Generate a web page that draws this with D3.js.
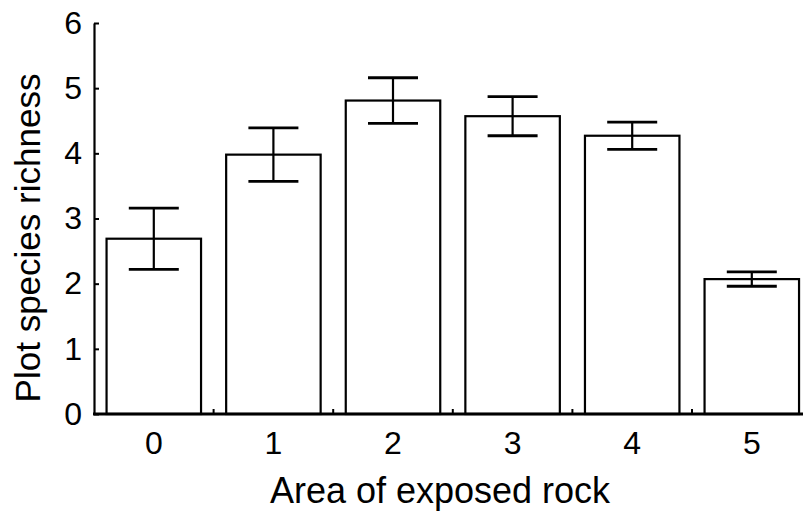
<!DOCTYPE html>
<html>
<head>
<meta charset="utf-8">
<script src="https://cdn.jsdelivr.net/npm/d3@7"></script>
<style>
  body { margin: 0; background: #fff; }
  svg { display: block; font-family: "Liberation Sans", Arial, sans-serif; }
</style>
</head>
<body>
<svg id="chart"></svg>
<script>
const categories = ["0", "1", "2", "3", "4", "5"];
const means = [2.69, 3.98, 4.81, 4.57, 4.27, 2.07];
const errors = [0.47, 0.41, 0.35, 0.30, 0.21, 0.11];
const yTicks = [0, 1, 2, 3, 4, 5, 6];

const width = 803, height = 512;
const marginLeft = 94, baseY = 414, topY = 23;

const svg = d3.select("#chart")
    .attr("width", width)
    .attr("height", height);

const x = d3.scaleBand()
    .domain(categories)
    .range([marginLeft, marginLeft + 6 * 119.6])
    .paddingInner(0.21)
    .paddingOuter(0.105);

const y = d3.scaleLinear()
    .domain([0, 6])
    .range([baseY, topY]);

const data = categories.map((c, i) => ({cat: c, mean: means[i], err: errors[i]}));

// bars
svg.append("g")
    .selectAll("rect")
    .data(data)
    .enter().append("rect")
    .attr("x", d => x(d.cat))
    .attr("y", d => y(d.mean))
    .attr("width", x.bandwidth())
    .attr("height", d => y(0) - y(d.mean))
    .attr("fill", "#fff")
    .attr("stroke", "#000")
    .attr("stroke-width", 2.2);

// error bars
const capW = 50;
const eb = svg.append("g").selectAll("g")
    .data(data)
    .enter().append("g")
    .attr("transform", d => `translate(${x(d.cat) + x.bandwidth() / 2},0)`);

eb.append("line")
    .attr("y1", d => y(d.mean + d.err))
    .attr("y2", d => y(d.mean - d.err))
    .attr("stroke", "#000")
    .attr("stroke-width", 2.2);

eb.append("line")
    .attr("x1", -capW / 2).attr("x2", capW / 2)
    .attr("y1", d => y(d.mean + d.err))
    .attr("y2", d => y(d.mean + d.err))
    .attr("stroke", "#000")
    .attr("stroke-width", 2.8);

eb.append("line")
    .attr("x1", -capW / 2).attr("x2", capW / 2)
    .attr("y1", d => y(d.mean - d.err))
    .attr("y2", d => y(d.mean - d.err))
    .attr("stroke", "#000")
    .attr("stroke-width", 2.8);

// y axis
const yAxis = svg.append("g")
    .attr("transform", `translate(${marginLeft},0)`)
    .call(d3.axisLeft(y).tickValues(yTicks).tickFormat(d3.format("d"))
        .tickSizeInner(-5).tickSizeOuter(0).tickPadding(12));
yAxis.select(".domain").attr("stroke", "#000").attr("stroke-width", 2.2);
yAxis.selectAll(".tick line").attr("stroke", "#000").attr("stroke-width", 2);
yAxis.selectAll(".tick text")
    .attr("font-size", 32)
    .attr("fill", "#000")
    .attr("font-family", "Liberation Sans, Arial, sans-serif");

// x axis
const xAxis = svg.append("g")
    .attr("transform", `translate(0,${baseY})`)
    .call(d3.axisBottom(x).tickSize(0).tickPadding(17));
xAxis.select(".domain").remove();
xAxis.selectAll(".tick text")
    .attr("font-size", 32)
    .attr("fill", "#000")
    .attr("font-family", "Liberation Sans, Arial, sans-serif");

svg.append("line")
    .attr("x1", marginLeft - 1).attr("x2", width)
    .attr("y1", baseY).attr("y2", baseY)
    .attr("stroke", "#000")
    .attr("stroke-width", 3);

// small ticks between bars
const gap = x.step() - x.bandwidth();
svg.append("g").selectAll("line")
    .data(categories.slice(1))
    .enter().append("line")
    .attr("x1", d => x(d) - gap / 2)
    .attr("x2", d => x(d) - gap / 2)
    .attr("y1", baseY)
    .attr("y2", baseY - 5)
    .attr("stroke", "#000")
    .attr("stroke-width", 2);

// axis titles
svg.append("text")
    .attr("x", 440)
    .attr("y", 503)
    .attr("text-anchor", "middle")
    .attr("font-size", 36)
    .text("Area of exposed rock");

svg.append("text")
    .attr("transform", "translate(40,238) rotate(-90)")
    .attr("text-anchor", "middle")
    .attr("font-size", 35)
    .text("Plot species richness");
</script>
</body>
</html>
